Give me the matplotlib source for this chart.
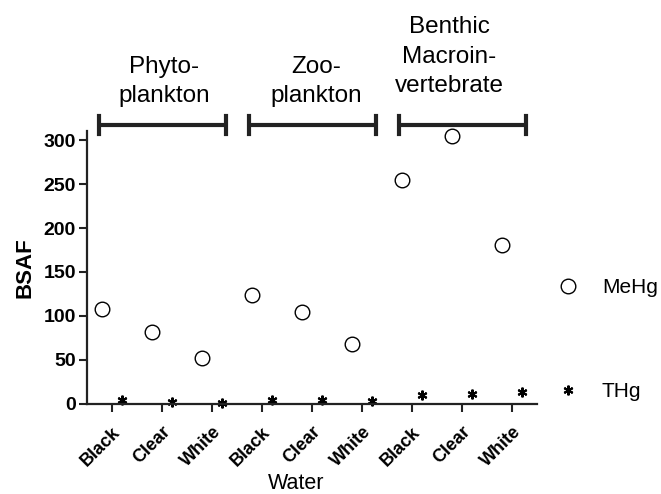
import matplotlib
matplotlib.use('Agg')
import matplotlib.pyplot as plt

# data
water = ['Black', 'Clear', 'White'] * 3
groups = ['Phyto-\nplankton', 'Zoo-\nplankton', 'Benthic\nMacroin-\nvertebrate']
group_x = [1.05, 4.08, 6.74]
mehg = [108, 82, 52, 124, 104, 68, 254, 305, 181]
thg = [5, 2, 1, 5, 4, 3, 10, 11, 14]

plt.rcParams['font.family'] = ['Liberation Sans', 'DejaVu Sans']

fig = plt.figure(figsize=(6.61, 4.94), dpi=100)
ax = fig.add_axes([0.1316, 0.1822, 0.6808, 0.5522])

x = list(range(len(water)))
ax.plot([i - 0.2 for i in x], mehg, 'o', mfc='white', mec='black', ms=10.5, mew=1.0,
        ls='none', label='MeHg', clip_on=False)
ax.plot([i + 0.2 for i in x], thg, marker=(6, 2, 0), color='black', ms=7, mew=1.5,
        ls='none', label='THg', clip_on=False)

ax.set_xlim(-0.5, 8.5)
ax.set_ylim(0, 310)
ax.set_yticks([0, 50, 100, 150, 200, 250, 300])
ax.set_xticks(x)
ax.set_xticklabels(water, rotation=45, ha='right', rotation_mode='anchor',
                   fontsize=13, fontweight='bold')
for lab in ax.get_yticklabels():
    lab.set_fontweight('bold')
    lab.set_fontsize(14)
ax.tick_params(axis='both', direction='out', width=1.5, length=6, color='#222222')
ax.tick_params(axis='x', pad=8)
ax.tick_params(axis='y', pad=2)
for s in ['top', 'right']:
    ax.spines[s].set_visible(False)
for s in ['left', 'bottom']:
    ax.spines[s].set_linewidth(1.6)
    ax.spines[s].set_color('#222222')

ax.set_ylabel('BSAF', fontsize=16, fontweight='bold', labelpad=6)
ax.set_xlabel('Water', fontsize=15.5, labelpad=2, x=0.465)

# group brackets above the plot
for g, name in enumerate(groups):
    x0 = 3 * g - 0.26
    x1 = 3 * g + 2.28
    yb = 317
    ax.plot([x0, x1], [yb, yb], color='#222222', lw=3, clip_on=False, solid_capstyle='butt')
    ax.plot([x0, x0], [yb - 10, yb + 10], color='#222222', lw=3, clip_on=False)
    ax.plot([x1, x1], [yb - 10, yb + 10], color='#222222', lw=3, clip_on=False)
    lift = 31.5 if g == 2 else 20
    ax.text(group_x[g], yb + lift, name, ha='center', va='bottom', fontsize=17.5,
            linespacing=1.45)

ax.legend(frameon=False, loc='center left', bbox_to_anchor=(1.004, 0.236),
          labelspacing=4.05, handlelength=1.0, handletextpad=1.13, fontsize=15)

fig.savefig('out.png', dpi=100)
